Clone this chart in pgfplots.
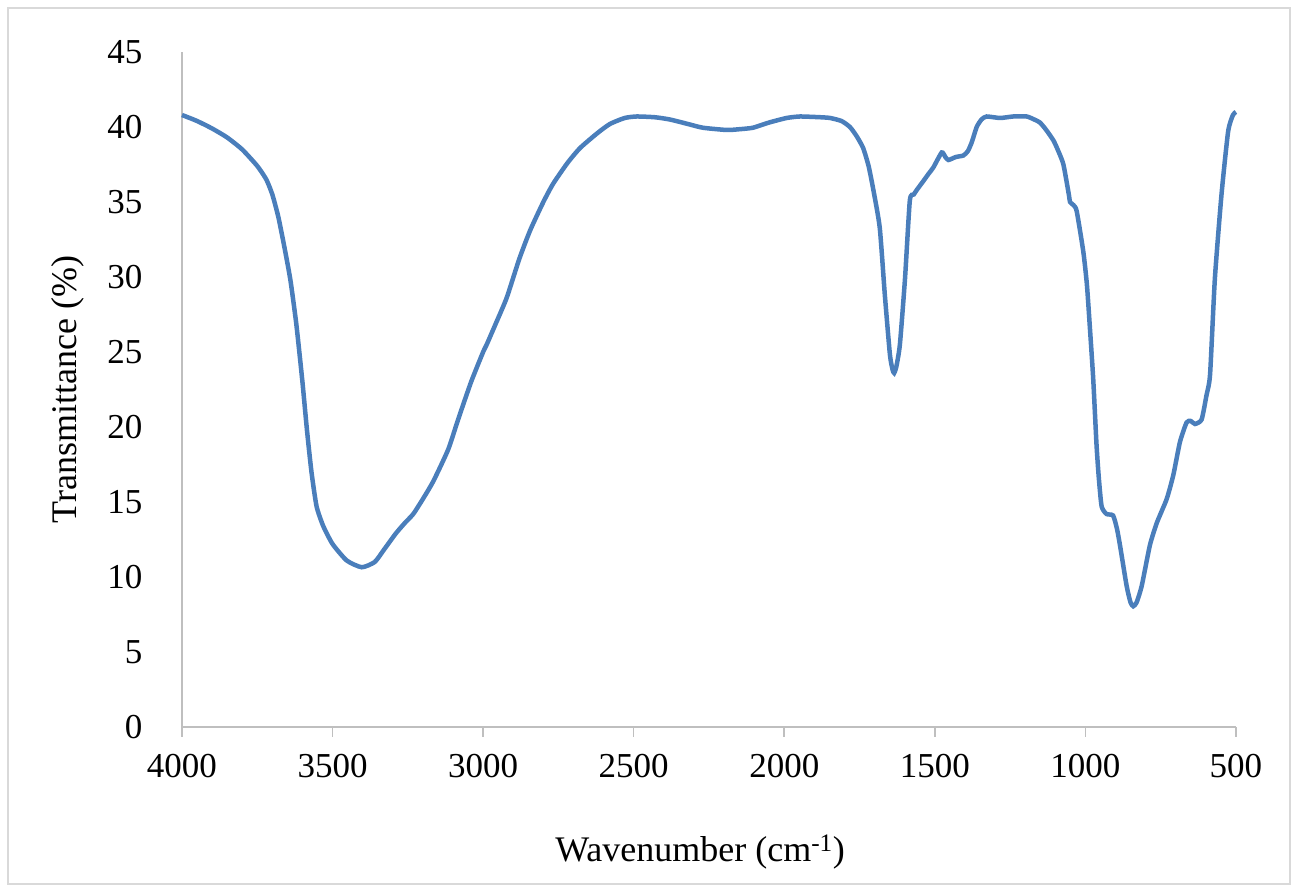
\documentclass[border=0pt]{standalone}
\usepackage{fontspec}
\setmainfont{Liberation Serif}
\usepackage{pgfplots}
\pgfplotsset{compat=1.18}
\definecolor{curveblue}{HTML}{4A7EBB}
\definecolor{axisgray}{HTML}{BFBFBF}
\definecolor{framegray}{HTML}{D9D9D9}
\begin{document}
\begin{tikzpicture}
\path[use as bounding box] (0pt,0pt) rectangle (1298pt,891pt);
\draw[framegray, line width=2pt] (8pt,7pt) rectangle (1290pt,883pt);
\begin{axis}[
  scale only axis,
  width=1054pt, height=675pt,
  at={(182pt,164pt)}, anchor=south west,
  x dir=reverse,
  xmin=500, xmax=4000,
  ymin=0, ymax=45,
  xtick={500,1000,...,4000},
  ytick={0,5,...,45},
  axis lines*=left,
  axis line style={draw=axisgray, line width=1.6pt},
  tick align=outside,
  major tick length=10pt,
  xtick style={draw=axisgray, line width=1.6pt},
  ytick style={draw=none},
  /pgf/number format/assume math mode=true,
  /pgf/number format/1000 sep={},
  scaled ticks=false,
  tick label style={font=\fontsize{35}{40}\selectfont},
  xticklabel style={yshift=-14pt},
  yticklabel style={xshift=-26pt},
  label style={font=\fontsize{36}{42}\selectfont},
  xlabel={Wavenumber (cm\textsuperscript{-1})},
  ylabel={Transmittance (\%)},
  xlabel style={at={(axis description cs:0.4915,-0.1852)}, anchor=center},
  ylabel style={at={(axis description cs:-0.1082,0.5)}, anchor=center, rotate=0},
  clip=false,
]
\addplot[curveblue, line width=4.5pt, smooth, tension=0.35] coordinates {
(4000,40.8) (3950,40.4) (3900,39.9) (3850,39.3) (3800,38.5) (3750,37.4)
(3720,36.5) (3700,35.5) (3680,34.0) (3660,32.0) (3640,29.8) (3620,26.8)
(3600,23.0) (3585,19.8) (3570,17.0) (3553,14.7) (3531,13.4) (3500,12.2)
(3453,11.1) (3403,10.65) (3360,11.0) (3330,11.8) (3290,12.9) (3260,13.6)
(3232,14.2) (3200,15.2) (3165,16.4) (3116,18.5) (3083,20.5) (3040,23.0)
(3000,25.0) (2988,25.5) (2960,26.8) (2922,28.6) (2880,31.2) (2844,33.1)
(2800,35.0) (2768,36.2) (2720,37.6) (2678,38.6) (2620,39.6) (2579,40.2)
(2530,40.6) (2490,40.7) (2430,40.65) (2380,40.5) (2320,40.2) (2270,39.95)
(2191,39.8) (2150,39.85) (2104,39.95) (2050,40.3) (1992,40.6) (1948,40.7)
(1880,40.65) (1848,40.6) (1810,40.4) (1782,40.0) (1760,39.4) (1738,38.6)
(1720,37.4) (1705,35.9) (1683,33.3) (1666,28.8) (1649,24.8) (1640,23.8)
(1635,23.6) (1628,24.0) (1616,25.5) (1599,29.9) (1583,35.1) (1570,35.5)
(1560,35.8) (1538,36.4) (1520,36.9) (1505,37.3) (1477,38.3) (1465,38.0)
(1455,37.8) (1430,38.0) (1405,38.1) (1390,38.4) (1377,39.0) (1361,40.0)
(1345,40.5) (1328,40.7) (1283,40.6) (1240,40.7) (1195,40.7) (1170,40.5)
(1151,40.3) (1130,39.8) (1106,39.1) (1090,38.4) (1073,37.5) (1055,35.5)
(1051,35.0) (1040,34.8) (1029,34.4) (1007,31.7) (995,29.5) (985,26.6)
(974,23.2) (963,18.8) (955,16.5) (946,14.7) (930,14.2) (908,14.1)
(895,13.2) (885,12.1) (863,9.4) (850,8.3) (841,8.05) (830,8.3)
(813,9.4) (786,12.1) (763,13.6) (730,15.2) (708,16.8) (686,19.0)
(664,20.3) (650,20.4) (636,20.2) (614,20.5) (598,22.1) (586,23.5)
(570,29.9) (548,35.5) (526,39.7) (510,40.8) (500,41.0)
};
\end{axis}
\end{tikzpicture}
\end{document}
